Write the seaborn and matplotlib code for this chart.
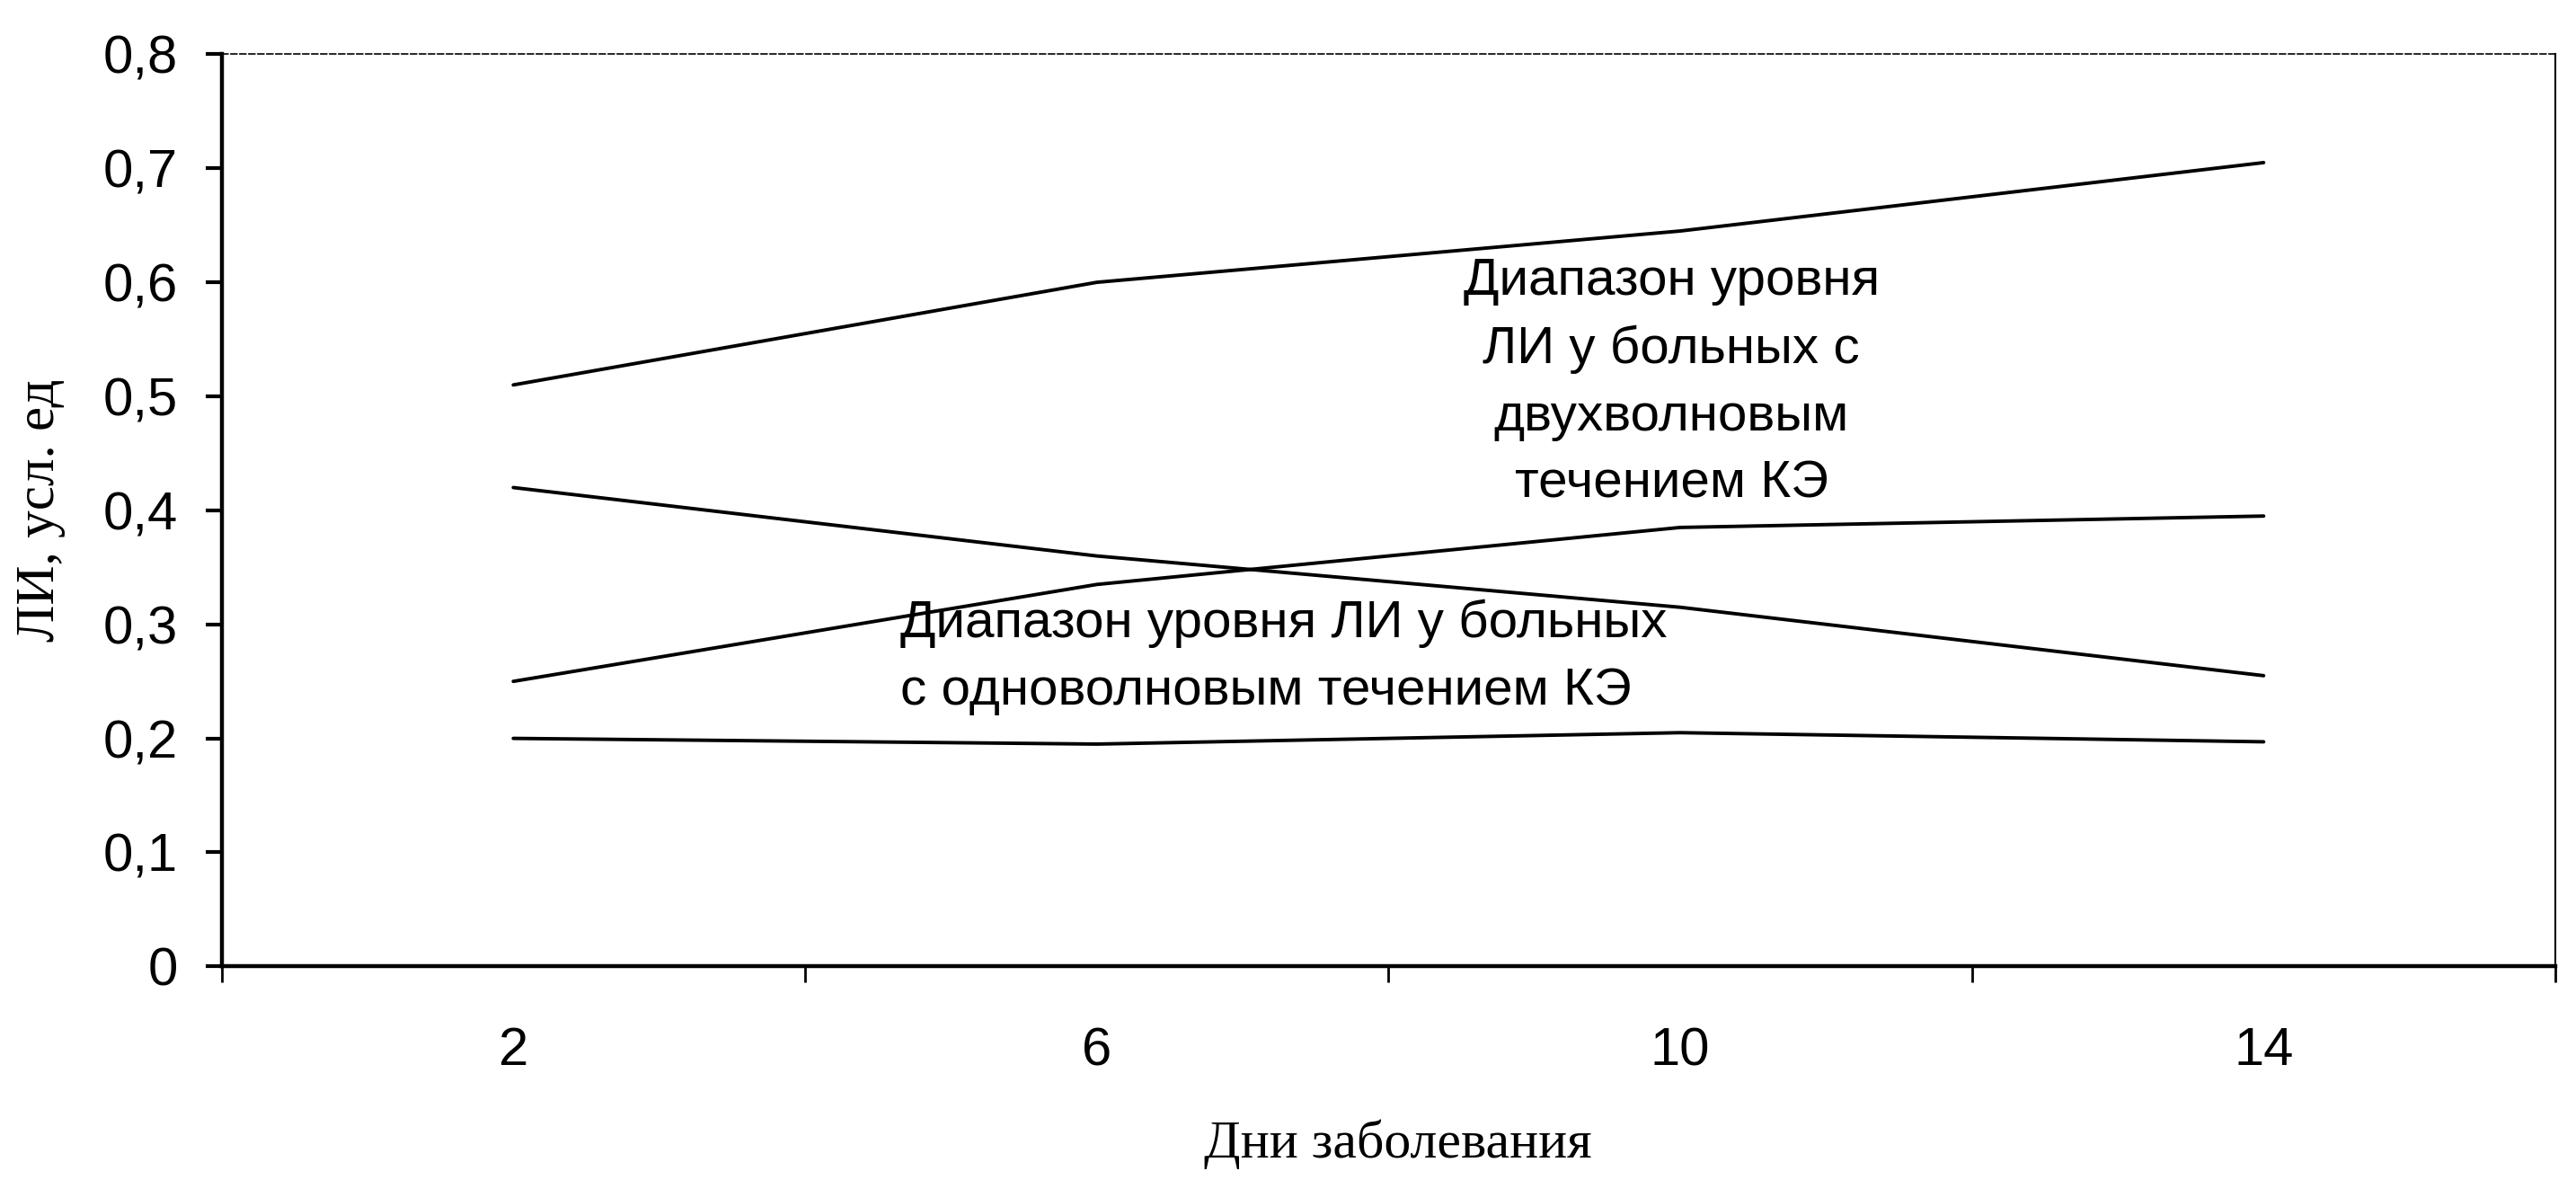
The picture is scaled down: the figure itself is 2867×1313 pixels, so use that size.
import numpy as np
import pandas as pd
import matplotlib
matplotlib.use('Agg')
import matplotlib.pyplot as plt
from matplotlib.ticker import FuncFormatter
import seaborn as sns

# days of illness (category axis)
days = ['2', '6', '10', '14']

# range boundaries of LI level, conventional units
two_wave_upper = [0.51, 0.60, 0.645, 0.705]
two_wave_lower = [0.25, 0.335, 0.385, 0.395]
one_wave_upper = [0.42, 0.36, 0.315, 0.255]
one_wave_lower = [0.20, 0.195, 0.205, 0.197]

y_ticks = [0, 0.1, 0.2, 0.3, 0.4, 0.5, 0.6, 0.7, 0.8]

label_two_wave = 'Диапазон уровня\nЛИ у больных с\nдвухволновым\nтечением КЭ'
label_one_wave = 'Диапазон уровня ЛИ у больных\nс одноволновым течением КЭ'

sns.set_style('white')
plt.rcParams['font.family'] = ['Liberation Sans', 'DejaVu Sans']
plt.rcParams.update({'text.color': 'black', 'axes.labelcolor': 'black',
                     'xtick.color': 'black', 'ytick.color': 'black'})

series = {
    'two_upper': two_wave_upper,
    'two_lower': two_wave_lower,
    'one_upper': one_wave_upper,
    'one_lower': one_wave_lower,
}
df = pd.concat(
    [pd.DataFrame({'day': days, 'value': vals, 'line': name}) for name, vals in series.items()],
    ignore_index=True,
)

fig, ax = plt.subplots(figsize=(28.67, 13.13), dpi=100)
fig.subplots_adjust(left=0.086, right=0.992, bottom=0.181, top=0.954)

sns.lineplot(data=df, x='day', y='value', units='line', estimator=None,
             color='black', linewidth=2.8, sort=False, ax=ax)

ax.set_xlim(-0.5, 3.5)
ax.set_ylim(0, 0.8)
ax.set_yticks(y_ticks)
ax.yaxis.set_major_formatter(FuncFormatter(
    lambda v, p: '0' if abs(v) < 1e-9 else f'{v:.1f}'.replace('.', ',')))

ax.set_xticks(range(len(days)))
ax.set_xticklabels(days)
ax.set_xticks([-0.5, 0.5, 1.5, 2.5, 3.5], minor=True)

ax.tick_params(axis='x', which='major', bottom=True, length=0, pad=48, labelsize=43)
ax.tick_params(axis='x', which='minor', bottom=True, length=13, width=2, direction='out')
ax.tick_params(axis='y', which='major', left=True, length=13, width=3, pad=22,
               labelsize=43, direction='out')

for side in ['left', 'bottom']:
    ax.spines[side].set_linewidth(3.2)
    ax.spines[side].set_color('black')
ax.spines['right'].set_linewidth(1.5)
ax.spines['right'].set_color('black')
ax.spines['top'].set_linewidth(1.2)
ax.spines['top'].set_color('black')
ax.spines['top'].set_linestyle((0, (4, 2)))

ax.set_ylabel('ЛИ, усл. ед', family=['Liberation Serif', 'DejaVu Serif'], fontsize=44)
ax.yaxis.set_label_coords(-0.067, 0.5)
ax.set_xlabel('Дни заболевания', family=['Liberation Serif', 'DejaVu Serif'], fontsize=43)
ax.xaxis.set_label_coords(0.504, -0.1675)

narrow = ['Liberation Sans Narrow', 'Liberation Sans', 'DejaVu Sans']
ax.text(1.985, 0.512, label_two_wave, ha='center', va='center', multialignment='center',
        fontsize=42, family=narrow, linespacing=1.5)
ax.text(0.663, 0.271, label_one_wave, ha='left', va='center', multialignment='left',
        fontsize=42, family=narrow, linespacing=1.5)

fig.savefig('out.png', dpi=100)
